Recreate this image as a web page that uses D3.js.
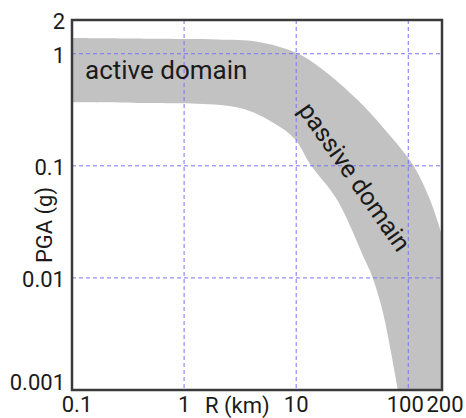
<!DOCTYPE html>
<html>
<head>
<meta charset="utf-8">
<script src="https://cdn.jsdelivr.net/npm/d3@7"></script>
<style>
  body { margin: 0; background: #fff; }
  text { font-family: Roboto, "Liberation Sans", sans-serif; fill: #1a1a1a; }
</style>
</head>
<body>
<div id="chart"></div>
<script>
/* DATA */
const xTicks = [0.1, 1, 10, 100, 200];
const xTickLabels = ["0.1", "1", "10", "100", "200"];
const yTicks = [0.001, 0.01, 0.1, 1, 2];
const yTickLabels = ["0.001", "0.01", "0.1", "1", "2"];
const gridR = [1, 10, 100];
const gridPGA = [0.01, 0.1, 1];

// upper edge of the shaded band (R in km, PGA in g)
const upperR = [0.1, 0.5, 2, 4.5, 10, 17.3, 35, 62, 110, 156, 200];
const upperPGA = [1.38, 1.36, 1.34, 1.28, 1.02, 0.72, 0.39, 0.21, 0.102, 0.05, 0.024];
// lower edge of the shaded band
const lowerR = [0.1, 0.5, 3.15, 6.5, 9.8, 13.3, 23.1, 41, 47.5, 59.5, 81];
const lowerPGA = [0.37, 0.363, 0.328, 0.236, 0.172, 0.104, 0.05, 0.0145, 0.0104, 0.0049, 0.001];

/* LAYOUT */
const width = 466,
  height = 418,
  margin = { top: 20, right: 24, bottom: 28, left: 72 };

const svg = d3.select("#chart")
  .append("svg")
  .attr("width", width)
  .attr("height", height);

const xScale = d3.scaleLog()
  .domain([0.1, 200])
  .range([margin.left, width - margin.right]);

const yScale = d3.scaleLog()
  .domain([0.001, 2])
  .range([height - margin.bottom, margin.top]);

svg.append("clipPath")
  .attr("id", "plot-clip")
  .append("rect")
  .attr("x", margin.left)
  .attr("y", margin.top)
  .attr("width", xScale(200) - xScale(0.1))
  .attr("height", yScale(0.001) - yScale(2));

// band: smooth upper edge, down the right side, smooth lower edge back
const edge = d3.line()
  .x(d => xScale(d[0]))
  .y(d => yScale(d[1]))
  .curve(d3.curveCatmullRom.alpha(0.5));

const upperPts = upperR.map((r, i) => [r, upperPGA[i]]);
const lowerPts = lowerR.map((r, i) => [r, lowerPGA[i]]).reverse();

const bandPath = edge(upperPts)
  + "L" + xScale(200) + "," + yScale(0.001)
  + "L" + edge(lowerPts).slice(1)
  + "Z";

svg.append("path")
  .attr("clip-path", "url(#plot-clip)")
  .attr("d", bandPath)
  .attr("fill", "#c2c2c2");

// dashed grid
svg.selectAll("line.gx")
  .data(gridR)
  .join("line")
  .attr("class", "gx")
  .attr("x1", d => xScale(d))
  .attr("x2", d => xScale(d))
  .attr("y1", yScale(2))
  .attr("y2", yScale(0.001))
  .attr("stroke", "#7a72f0")
  .attr("stroke-width", 1)
  .attr("stroke-dasharray", "4,3");

svg.selectAll("line.gy")
  .data(gridPGA)
  .join("line")
  .attr("class", "gy")
  .attr("x1", xScale(0.1))
  .attr("x2", xScale(200))
  .attr("y1", d => yScale(d))
  .attr("y2", d => yScale(d))
  .attr("stroke", "#7a72f0")
  .attr("stroke-width", 1)
  .attr("stroke-dasharray", "4,3");

// frame
svg.append("rect")
  .attr("x", xScale(0.1))
  .attr("y", yScale(2))
  .attr("width", xScale(200) - xScale(0.1))
  .attr("height", yScale(0.001) - yScale(2))
  .attr("fill", "none")
  .attr("stroke", "#3a3a3a")
  .attr("stroke-width", 2.5);

// tick labels
svg.selectAll("text.xt")
  .data(xTicks)
  .join("text")
  .attr("class", "xt")
  .attr("x", (d, i) => xScale(d) + (i === 0 ? 5 : i === 3 ? -3 : i === 4 ? 3 : 0))
  .attr("y", 412)
  .attr("text-anchor", "middle")
  .attr("font-size", 22)
  .text((d, i) => xTickLabels[i]);

svg.selectAll("text.yt")
  .data(yTicks)
  .join("text")
  .attr("class", "yt")
  .attr("x", 65)
  .attr("y", (d, i) => yScale(d) + (i === 0 ? -6 : 3))
  .attr("dominant-baseline", "middle")
  .attr("text-anchor", "end")
  .attr("font-size", 22)
  .text((d, i) => yTickLabels[i]);

// axis titles
svg.append("text")
  .attr("x", 205)
  .attr("y", 413)
  .attr("font-size", 22)
  .text("R (km)");

svg.append("text")
  .attr("transform", "translate(52,225) rotate(-90)")
  .attr("text-anchor", "middle")
  .attr("font-size", 22)
  .text("PGA (g)");

// domain labels
svg.append("text")
  .attr("x", 85)
  .attr("y", 79)
  .attr("font-size", 26)
  .text("active domain");

svg.append("text")
  .attr("transform", "translate(353,178) rotate(55)")
  .attr("text-anchor", "middle")
  .attr("dominant-baseline", "middle")
  .attr("font-size", 25)
  .text("passive domain");
</script>
</body>
</html>
